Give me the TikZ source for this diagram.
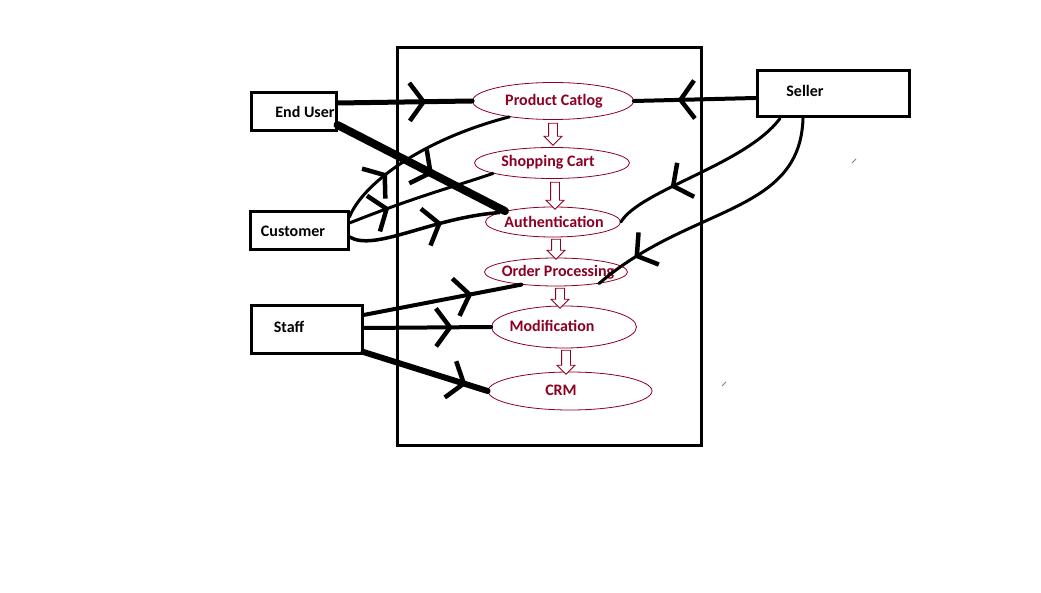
\documentclass[tikz,border=0pt]{standalone}
\usepackage{fontspec}
\setmainfont{Carlito}
\usepackage{xcolor}
\usetikzlibrary{arrows.meta, calc, shapes.geometric, shapes.arrows, decorations.markings}

\definecolor{ucred}{RGB}{140,0,35}

\tikzset{
  actor/.style = {draw, line width=3pt, inner sep=0pt},
  actortext/.style = {font=\fontsize{16}{18}\selectfont\bfseries},
  usecase/.style = {ellipse, draw=ucred, line width=0.8pt, inner sep=0pt},
  uctext/.style = {text=ucred, font=\fontsize{16}{18}\selectfont\bfseries},
  flow/.style = {single arrow, draw=ucred, line width=0.8pt, fill=white,
    shape border rotate=270, inner sep=4pt, single arrow head extend=4.5pt,
    minimum height=22pt},
  link/.style = {line width=#1, line cap=round, line join=round},
  midarrow/.style = {postaction={decorate}, decoration={markings,
    mark=at position #1 with {\arrow[line width=4.5pt]{Straight Barb[length=14pt,width=38pt]}}}}
}

\begin{document}
\begin{tikzpicture}[x=1pt, y=-1pt]
	    \useasboundingbox (0,0) rectangle (1041,593);
	    % system boundary
	    \draw[line width=3pt] (397,48) rectangle (701,445);

	    % actors
	    \node[actor, minimum width=85pt, minimum height=38pt] (eu) at (293.5,112) {};
	    \node[actortext] (eu-t) at (305,112) {End User};
	    \node[actor, minimum width=98pt, minimum height=38pt] (cu) at (299,231) {};
	    \node[actortext] (cu-t) at (293,231) {Customer};
	    \node[actor, minimum width=111pt, minimum height=48pt] (st) at (306.5,330) {};
	    \node[actortext] (st-t) at (289,327) {Staff};
	    \node[actor, minimum width=152pt, minimum height=46pt] (se) at (833,94) {};
	    \node[actortext] (se-t) at (805,91) {Seller};

	    % use cases
	    \node[usecase, minimum width=161pt, minimum height=37pt] (pc) at (553,101) {};
	    \node[uctext] (pc-t) at (554,101) {Product Catlog};
	    \node[usecase, minimum width=155pt, minimum height=31pt] (sc) at (552,163) {};
	    \node[uctext] (sc-t) at (548,162) {Shopping Cart};
	    \node[usecase, minimum width=135pt, minimum height=30pt] (au) at (553,222) {};
	    \node[uctext] (au-t) at (554,222) {Authentication};
	    \node[usecase, minimum width=143pt, minimum height=28pt] (op) at (556,272) {};
	    \node[uctext] (op-t) at (558,272) {Order Processing};
	    \node[usecase, minimum width=145pt, minimum height=42pt] (mo) at (564,327) {};
	    \node[uctext] (mo-t) at (552,326) {Modification};
	    \node[usecase, minimum width=164pt, minimum height=38pt] (crm) at (570,391) {};
	    \node[uctext] (crm-t) at (561,390) {CRM};

	    % flow between use cases
	    \node[flow] (f1) at ($(553,121)!0.5!(553,143)$) {};
	    \node[flow, minimum height=27pt] (f2) at ($(555,180)!0.5!(555,207)$) {};
	    \node[flow, minimum height=20pt] (f3) at ($(556,237)!0.5!(556,257)$) {};
	    \node[flow, minimum height=20pt] (f4) at ($(560,286)!0.5!(560,306)$) {};
	    \node[flow, minimum height=24pt] (f5) at ($(566,348)!0.5!(566,372)$) {};

	    % actor links
	    \draw[link=5pt, midarrow=0.66] ([yshift=9pt]eu.east) -- (pc.west);
	    \draw[link=8pt, midarrow=0.57] ([yshift=-13pt]eu.east) -- (au.north west);
	    \draw[link=3pt, midarrow=0.3] ([yshift=14pt]cu.east) .. controls (362,185) and (420,140) .. (pc.200);
	    \draw[link=3pt, midarrow=0.28] ([yshift=8pt]cu.east) .. controls (420,195) and (460,185) .. (sc.190);
	    \draw[link=3.5pt, midarrow=0.62] ([yshift=-6pt]cu.east) .. controls (375,252) and (430,218) .. (au.170);
	    \draw[link=4pt, midarrow=0.69] ([yshift=15pt]st.east) -- (op.200);
	    \draw[link=4pt, midarrow=0.7] ([yshift=2pt]st.east) -- (mo.west);
	    \draw[link=6pt, midarrow=0.83] ([yshift=-22pt]st.east) -- (crm.west);
	    \draw[link=4pt, midarrow=0.64] ([yshift=-4pt]se.west) -- (pc.east);
	    \draw[link=3pt, midarrow=0.68] ([xshift=-53pt]se.south) .. controls (745,165) and (640,190) .. (au.east);
	    \draw[link=3pt, midarrow=0.84] ([xshift=-30pt]se.south) .. controls (800,215) and (690,205) .. (op.-15);

	    % stray ticks
	    \draw[line width=1pt, gray] (852,163) -- (856,159);
	    \draw[line width=1pt, gray] (722,386) -- (726,382);
\end{tikzpicture}
\end{document}
